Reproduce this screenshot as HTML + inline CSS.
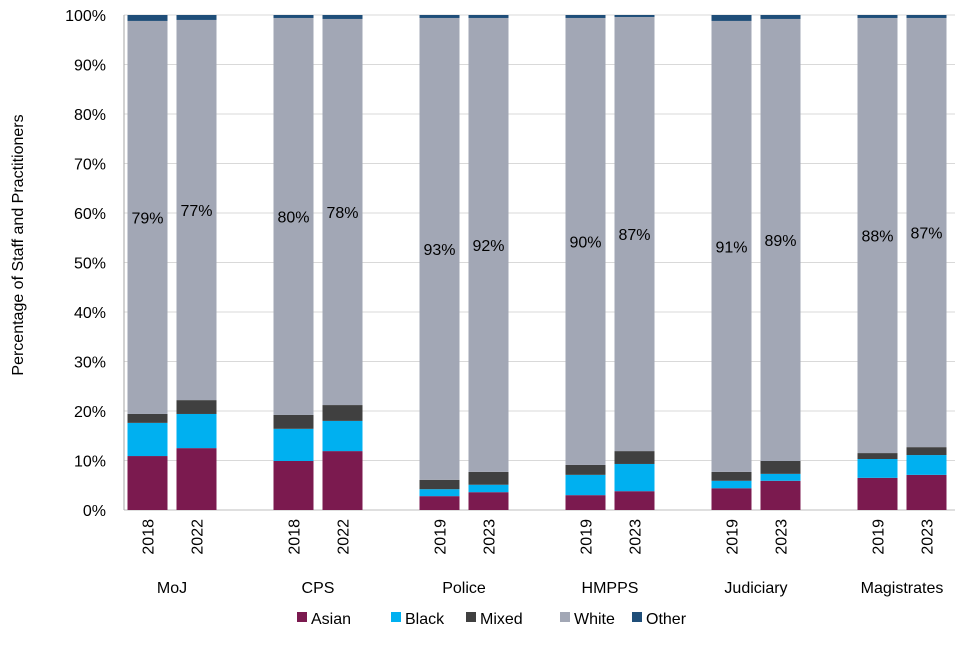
<!DOCTYPE html>
<html><head><meta charset="utf-8"><style>
body{margin:0;background:#fff;font-family:"Liberation Sans",Arial,sans-serif}
svg text{font-family:"Liberation Sans",Arial,sans-serif}
</style></head><body>
<svg id="chart" width="960" height="640" xmlns="http://www.w3.org/2000/svg">
<g id="grid"></g>
<g id="bars"></g>
<g id="yaxis"></g>
<g id="xaxis"></g>
<text transform="translate(23,245) rotate(-90)" text-anchor="middle" font-size="16" fill="#000">Percentage of Staff and Practitioners</text>
<g id="legend"></g>
</svg>
<script>
const groups = ["MoJ","CPS","Police","HMPPS","Judiciary","Magistrates"];
const years = ["2018","2022","2018","2022","2019","2023","2019","2023","2019","2023","2019","2023"];
const seriesNames = ["Asian","Black","Mixed","White","Other"];
const asian = [10.9,12.5,9.9,11.9,2.8,3.6,3.0,3.8,4.4,5.9,6.5,7.1];
const black = [6.7,6.9,6.5,6.1,1.4,1.5,4.1,5.5,1.5,1.4,3.8,4.0];
const mixed = [1.8,2.8,2.8,3.2,1.9,2.6,2.0,2.6,1.8,2.6,1.2,1.6];
const white = [79.4,76.8,80.2,78.0,93.3,91.7,90.3,87.7,91.1,89.3,87.9,86.7];
const other = [1.2,1.0,0.6,0.8,0.6,0.6,0.6,0.4,1.2,0.8,0.6,0.6];
const whiteLabels = ["79%","77%","80%","78%","93%","92%","90%","87%","91%","89%","88%","87%"];
const yTicks = [0,10,20,30,40,50,60,70,80,90,100];
const colors = ["#7B1A4F","#00B0F0","#404040","#A2A7B5","#1F4E79"];
const NS="http://www.w3.org/2000/svg";
const plotL=124, plotR=955, y0=510, y100=15;
const y = v => y0 - (v/100)*(y0-y100);
const groupW=146, firstCenter=172;
const barW=40;
const x = i => firstCenter + Math.floor(i/2)*groupW + (i%2===0 ? -44.5 : 4.5);
function mk(tag,attrs,parent){const e=document.createElementNS(NS,tag);for(const k in attrs)e.setAttribute(k,attrs[k]);parent.appendChild(e);return e;}
const grid=document.getElementById('grid'), yaxis=document.getElementById('yaxis'), bars=document.getElementById('bars'), xaxis=document.getElementById('xaxis'), legend=document.getElementById('legend');
yTicks.forEach(t=>{
  const l=mk('line',{x1:plotL,x2:plotR,y1:y(t),y2:y(t),stroke:t===0?'#bfbfbf':'#d9d9d9','stroke-width':1},grid);
  
  
  const tx=mk('text',{x:106,y:y(t)+6,'text-anchor':'end','font-size':16,fill:'#000'},yaxis);
  tx.textContent=t+'%';
  
  
});
const axisLine=mk('line',{x1:plotL,x2:plotL,y1:y100,y2:y0,stroke:'#a6a6a6','stroke-width':1},yaxis);


const series=[asian,black,mixed,white,other];
years.forEach((yr,i)=>{
  let cum=0;
  series.forEach((s,k)=>{
    const r=mk('rect',{x:x(i),y:y(cum+s[i]),width:barW,height:y(cum)-y(cum+s[i]),fill:colors[k]},bars);
    
    
    if(k===3){
      const t=mk('text',{x:x(i)+barW/2,y:(y(cum)+y(cum+s[i]))/2+6,'text-anchor':'middle','font-size':16,fill:'#000'},bars);
      t.textContent=whiteLabels[i];
      
      
    }
    cum+=s[i];
  });
  const yt=mk('text',{transform:`translate(${x(i)+barW/2+6},519) rotate(-90)`,'text-anchor':'end','font-size':16,fill:'#000'},xaxis);
  yt.textContent=yr;
  
  
});
groups.forEach((g,gi)=>{
  const t=mk('text',{x:firstCenter+gi*groupW,y:593,'text-anchor':'middle','font-size':16,fill:'#000'},xaxis);
  t.textContent=g;
  
  
});
const legX=[297,391,466,560,632];
seriesNames.forEach((n,k)=>{
  const r=mk('rect',{x:legX[k],y:612,width:10,height:10,fill:colors[k]},legend);
  
  
  const t=mk('text',{x:legX[k]+14,y:624,'font-size':16,fill:'#000'},legend);
  t.textContent=n;
  
  
});
</script>
</body></html>
